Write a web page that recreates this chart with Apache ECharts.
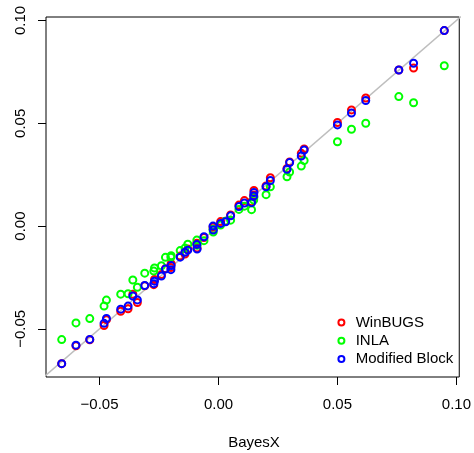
<!DOCTYPE html>
<html>
<head>
<meta charset="utf-8">
<script src="https://cdn.jsdelivr.net/npm/echarts@6/dist/echarts.min.js"></script>
<style>
html,body{margin:0;padding:0;background:#fff;}
#chart{width:474px;height:453px;}
</style>
</head>
<body>
<div id="chart"></div>
<script>
// BayesX estimates (x, shared by all three methods)
var bayesX = [-0.0659,-0.0599,-0.0541,-0.0481,-0.0471,-0.0411,-0.0380,-0.0360,-0.0341,-0.0310,
  -0.0272,-0.0269,-0.0240,-0.0223,-0.0200,-0.0199,-0.0161,-0.0141,-0.0129,-0.0091,
  -0.0090,-0.0061,-0.0023,-0.0022,0.0009,0.0030,0.0051,0.0086,0.0109,0.0139,
  0.0148,0.0149,0.0200,0.0218,0.0288,0.0299,0.0348,0.0360,0.0500,0.0559,
  0.0619,0.0758,0.0820,0.0949];
var winBUGS = [-0.0669,-0.0582,-0.0553,-0.0484,-0.0455,-0.0414,-0.0402,-0.0331,-0.0372,-0.0290,
  -0.0285,-0.0260,-0.0236,-0.0207,-0.0202,-0.0183,-0.0146,-0.0136,-0.0112,-0.0083,
  -0.0107,-0.0056,-0.0005,-0.0015,0.0022,0.0024,0.0054,0.0102,0.0124,0.0119,
  0.0151,0.0173,0.0195,0.0235,0.0280,0.0312,0.0354,0.0375,0.0504,0.0565,
  0.0623,0.0759,0.0769,0.0951];
var inla = [-0.0552,-0.0471,-0.0450,-0.0389,-0.0360,-0.0331,-0.0329,-0.0262,-0.0298,-0.0229,
  -0.0219,-0.0204,-0.0193,-0.0152,-0.0151,-0.0144,-0.0119,-0.0107,-0.0088,-0.0068,
  -0.0093,-0.0071,-0.0015,-0.0029,0.0005,0.0024,0.0029,0.0081,0.0097,0.0080,
  0.0127,0.0141,0.0153,0.0191,0.0240,0.0263,0.0292,0.0319,0.0410,0.0471,
  0.0500,0.0630,0.0600,0.0780];
var modifiedBlock = [-0.0669,-0.0579,-0.0551,-0.0473,-0.0449,-0.0404,-0.0389,-0.0340,-0.0359,-0.0289,
  -0.0280,-0.0268,-0.0243,-0.0209,-0.0212,-0.0192,-0.0151,-0.0127,-0.0117,-0.0089,
  -0.0112,-0.0052,0.0000,-0.0019,0.0013,0.0021,0.0050,0.0095,0.0112,0.0114,
  0.0146,0.0163,0.0191,0.0222,0.0276,0.0309,0.0341,0.0370,0.0492,0.0550,
  0.0611,0.0759,0.0792,0.0951];
var seriesNames = ['WinBUGS','INLA','Modified Block'];
var seriesColors = ['#FF0000','#00FF00','#0000FF'];
var tickValues = [-0.05, 0, 0.05, 0.10];
var tickLabels = ['\u22120.05','0.00','0.05','0.10'];
var identityLine = [-0.2, 0.2];

function pairs(xs, ys){ return xs.map(function(x,i){ return [x, ys[i]]; }); }
function fmt(v){
  for (var i=0;i<tickValues.length;i++){ if (Math.abs(v-tickValues[i])<1e-9) return tickLabels[i]; }
  return '';
}
var FONT = 'Liberation Sans, Arial, sans-serif';
var FS = 15;
var chart = echarts.init(document.getElementById('chart'), null, {renderer:'canvas'});
var ys = [winBUGS, inla, modifiedBlock];
var scatter = seriesNames.map(function(n,i){
  return {
    name: n, type: 'scatter', data: pairs(bayesX, ys[i]), symbol: 'circle', symbolSize: 7,
    itemStyle: {color: 'rgba(255,255,255,0)', borderColor: seriesColors[i], borderWidth: 2, opacity: 1},
    emphasis: {disabled: true}, z: 3 + i
  };
});
chart.setOption({
  animation: false,
  grid: {left: 46, top: 17, right: 12, bottom: 76, show: true, borderColor: '#000', borderWidth: 1, backgroundColor: 'transparent'},
  xAxis: {
    type: 'value', min: -0.0725, max: 0.1012,
    axisLine: {show: false, onZero: false}, splitLine: {show: false},
    axisTick: {show: true, inside: false, customValues: tickValues, length: 8, lineStyle: {color: '#000', width: 1}},
    axisLabel: {customValues: tickValues, formatter: fmt, margin: 20, color: '#000', fontSize: FS, fontFamily: FONT}
  },
  yAxis: {
    type: 'value', min: -0.0734, max: 0.1017,
    axisLine: {show: false, onZero: false}, splitLine: {show: false},
    axisTick: {show: true, inside: false, customValues: tickValues, length: 8, lineStyle: {color: '#000', width: 1}},
    axisLabel: {customValues: tickValues, formatter: fmt, margin: 18, rotate: 90, color: '#000', fontSize: FS, fontFamily: FONT}
  },
  legend: {
    orient: 'vertical', left: 332.4, top: 310, itemWidth: 18.6, itemHeight: 6, itemGap: 3.3,
    icon: 'circle', data: seriesNames.map(function(n,i){
      return {name: n, itemStyle: {color: 'rgba(255,255,255,0)', borderColor: seriesColors[i], borderWidth: 2}};
    }),
    textStyle: {color: '#000', fontSize: FS, fontFamily: FONT}, selectedMode: false
  },
  graphic: [{type: 'text', style: {text: 'BayesX', x: 254, y: 443, textAlign: 'center', textVerticalAlign: 'middle', fill: '#000', font: FS + 'px ' + FONT}}],
  series: [{
    type: 'line', data: pairs(identityLine, identityLine), symbol: 'none', silent: true,
    lineStyle: {color: '#BEBEBE', width: 1.5}, z: 1, clip: true
  }].concat(scatter)
});
</script>
</body>
</html>
